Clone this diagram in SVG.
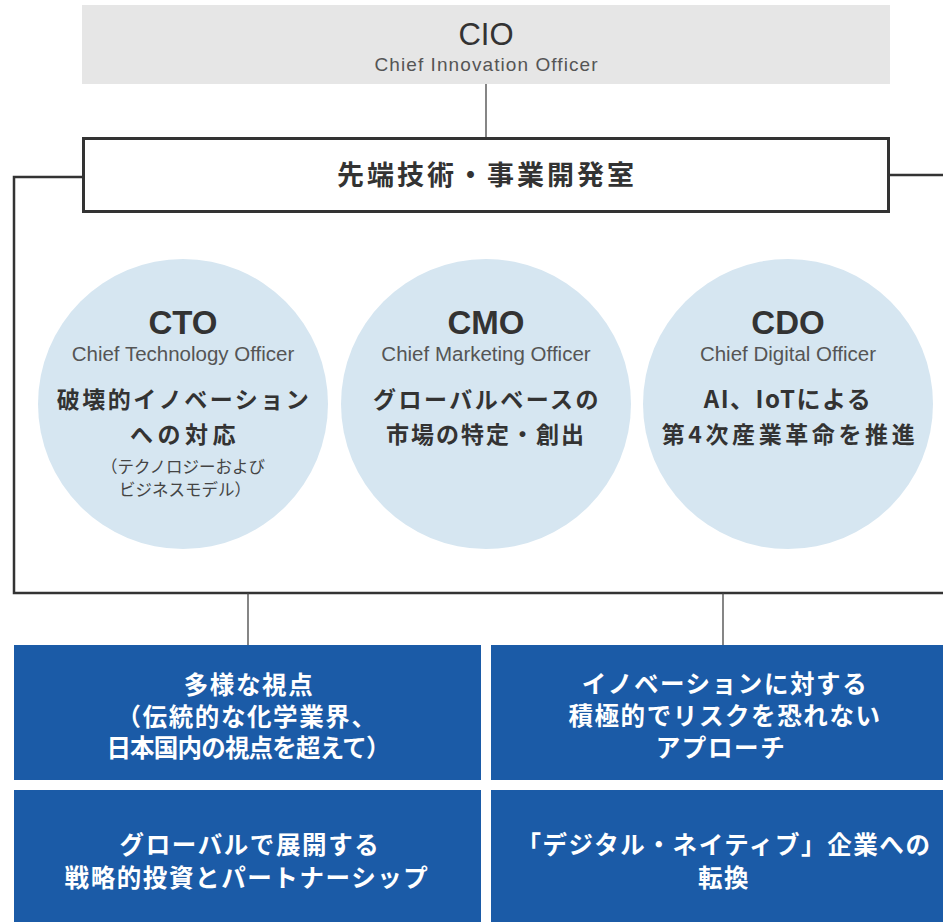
<svg xmlns="http://www.w3.org/2000/svg" width="943" height="922" viewBox="0 0 943 922">
<style>
.lat{font-family:"Liberation Sans",Arial,sans-serif;fill:#333;text-anchor:middle}
.jp{font-family:"Noto Sans CJK JP","Noto Sans CJK SC",sans-serif;font-weight:bold;fill:#333;text-anchor:middle}
.sm{font-family:"Noto Sans CJK JP","Noto Sans CJK SC",sans-serif;font-weight:normal;fill:#444;text-anchor:middle;font-size:16.5px}
.wt{font-family:"Noto Sans CJK JP","Noto Sans CJK SC",sans-serif;font-weight:bold;fill:#fff;text-anchor:middle;font-size:24.5px;letter-spacing:1.6px}
.sub{font-family:"Liberation Sans",Arial,sans-serif;fill:#555;text-anchor:middle;font-size:20.5px}
.circ{fill:#d6e6f1}
.blue{fill:#1b5ba7}
.thick{fill:none;stroke:#333;stroke-width:2.5}
.thin{fill:none;stroke:#444;stroke-width:1.3}
</style>
<rect width="943" height="922" fill="#fff"/>
<g id="connectors">
<line class="thin" x1="486" y1="84" x2="486" y2="138"/>
<polyline class="thick" points="83,177 14,177 14,593 943,593"/>
<line class="thick" x1="889" y1="175" x2="943" y2="175"/>
<line class="thin" x1="248" y1="593" x2="248" y2="645"/>
<line class="thin" x1="723" y1="593" x2="723" y2="645"/>
</g>
<g id="cio">
<rect x="82" y="5" width="808" height="79" fill="#e6e6e6"/>
<text class="lat" x="486" y="45" font-size="31">CIO</text>
<text class="sub" x="486" y="71" textLength="223" lengthAdjust="spacing" style="font-size:19px">Chief Innovation Officer</text>
</g>
<g id="lab">
<rect x="83.5" y="138.5" width="805" height="73" fill="#fff" stroke="#333" stroke-width="3"/>
<text class="jp" x="487" y="185" font-size="27" letter-spacing="3">先端技術・事業開発室</text>
</g>
<g id="cto">
<circle class="circ" cx="183" cy="404" r="145"/>
<text class="lat" x="183" y="334" font-size="33" font-weight="bold">CTO</text>
<text class="sub" x="183" y="361">Chief Technology Officer</text>
<text class="jp" x="184" y="408" font-size="23" letter-spacing="2.5">破壊的イノベーション</text>
<text class="jp" x="185" y="443" font-size="23" letter-spacing="4.5">への対応</text>
<text class="sm" x="183" y="473">（テクノロジーおよび</text>
<text class="sm" x="185" y="496">ビジネスモデル）</text>
</g>
<g id="cmo">
<circle class="circ" cx="486" cy="404" r="145"/>
<text class="lat" x="486" y="334" font-size="33" font-weight="bold">CMO</text>
<text class="sub" x="486" y="361">Chief Marketing Officer</text>
<text class="jp" x="487" y="408" font-size="23" letter-spacing="2.5">グローバルベースの</text>
<text class="jp" x="486" y="443" font-size="23" letter-spacing="2">市場の特定・創出</text>
</g>
<g id="cdo">
<circle class="circ" cx="788" cy="404" r="145"/>
<text class="lat" x="788" y="334" font-size="33" font-weight="bold">CDO</text>
<text class="sub" x="788" y="361">Chief Digital Officer</text>
<text class="jp" x="788" y="408" font-size="24" letter-spacing="1.5">AI、IoTによる</text>
<text class="jp" x="790" y="443" font-size="23" letter-spacing="3.6">第4次産業革命を推進</text>
</g>
<g id="box1">
<rect class="blue" x="14" y="645" width="467" height="135"/>
<text class="wt" x="249" y="694">多様な視点</text>
<text class="wt" x="247" y="726">（伝統的な化学業界、</text>
<text class="wt" x="248" y="757" style="letter-spacing:-0.8px">日本国内の視点を超えて）</text>
</g>
<g id="box2">
<rect class="blue" x="491" y="645" width="452" height="135"/>
<text class="wt" x="725" y="693">イノベーションに対する</text>
<text class="wt" x="725" y="725">積極的でリスクを恐れない</text>
<text class="wt" x="721" y="757">アプローチ</text>
</g>
<g id="box3">
<rect class="blue" x="14" y="790" width="467" height="132"/>
<text class="wt" x="250" y="854">グローバルで展開する</text>
<text class="wt" x="247" y="887">戦略的投資とパートナーシップ</text>
</g>
<g id="box4">
<rect class="blue" x="491" y="790" width="452" height="132"/>
<text class="wt" x="724" y="854">「デジタル・ネイティブ」企業への</text>
<text class="wt" x="724" y="887">転換</text>
</g>
</svg>
